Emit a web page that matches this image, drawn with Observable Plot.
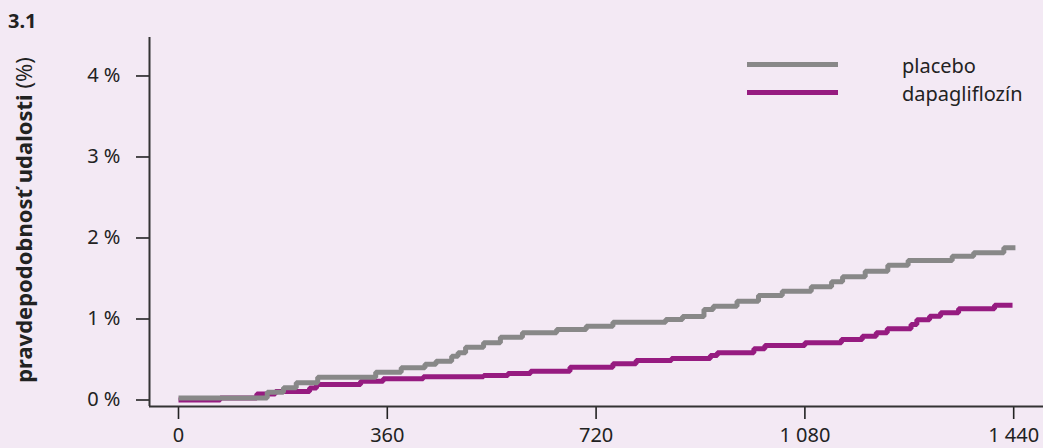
<!DOCTYPE html>
<html>
<head>
<meta charset="utf-8">
<script src="https://cdn.jsdelivr.net/npm/d3@7"></script>
<script src="https://cdn.jsdelivr.net/npm/@observablehq/plot@0.6"></script>
<style>
  html, body { margin: 0; padding: 0; background: #f3e9f4; }
  #wrap { position: relative; width: 1043px; height: 448px; background: #f3e9f4; font-family: "Noto Sans", sans-serif; color: #222; overflow: hidden; }
  #wrap svg { position: absolute; left: 0; top: 0; }
  #title { position: absolute; left: 8px; top: 11px; font-size: 20px; font-weight: bold; line-height: 1; }
  #ylabel { position: absolute; left: 23px; top: 220px; transform: translate(-50%, -50%) rotate(-90deg); white-space: nowrap; font-size: 22px; line-height: 1; }
  #ylabel b { font-weight: bold; }
  .leg { position: absolute; left: 747px; width: 91px; height: 5px; }
  .legt { position: absolute; left: 902px; font-size: 20px; line-height: 1; transform: translateY(-50%); }
</style>
</head>
<body>
<div id="wrap">
  <div id="title">3.1</div>
  <div id="ylabel"><b>pravdepodobnosť udalosti</b> (%)</div>
  <div class="leg" style="top:62px;background:#888888"></div>
  <div class="legt" style="top:66px">placebo</div>
  <div class="leg" style="top:90px;background:#961b80"></div>
  <div class="legt" style="top:94px">dapagliflozín</div>
</div>
<script>
// Series: step points (day, cumulative event probability in %)
const placeboDays = [0, 153, 181, 203, 240, 340, 384, 425, 444, 471, 482, 495, 526, 555, 593, 652, 703, 749, 840, 869, 906, 922, 963, 1000, 1041, 1091, 1126, 1145, 1184, 1223, 1258, 1334, 1371, 1423, 1443];
const placeboPct  = [0.025, 0.096, 0.151, 0.212, 0.281, 0.343, 0.398, 0.442, 0.479, 0.541, 0.583, 0.652, 0.706, 0.775, 0.830, 0.870, 0.911, 0.960, 0.994, 1.031, 1.117, 1.158, 1.220, 1.290, 1.343, 1.398, 1.459, 1.521, 1.590, 1.664, 1.722, 1.775, 1.817, 1.879, 1.879];
const dapaDays = [0, 72, 135, 167, 226, 238, 314, 353, 422, 526, 568, 607, 675, 749, 789, 850, 917, 929, 992, 1011, 1080, 1143, 1179, 1203, 1222, 1263, 1273, 1295, 1314, 1345, 1407, 1438];
const dapaPct  = [0, 0.025, 0.074, 0.105, 0.148, 0.191, 0.232, 0.262, 0.286, 0.302, 0.327, 0.356, 0.405, 0.447, 0.488, 0.512, 0.549, 0.583, 0.632, 0.673, 0.706, 0.747, 0.788, 0.830, 0.879, 0.932, 0.990, 1.035, 1.077, 1.126, 1.170, 1.170];

const xTicks = [0, 360, 720, 1080, 1440];
const yTicks = [0, 1, 2, 3, 4];
const seriesNames = ["placebo", "dapagliflozín"];
const seriesColors = ["#888888", "#961b80"];

const placebo = placeboDays.map((d, i) => ({day: d, pct: placeboPct[i]}));
const dapa = dapaDays.map((d, i) => ({day: d, pct: dapaPct[i]}));

const xDomain = [-50, 1491.4];
const yDomain = [-0.0802, 4.475];

const fmt = d3.formatLocale({thousands: "\u00a0", grouping: [3], decimal: ",", currency: ["", ""]}).format(",");

const chart = Plot.plot({
  width: 1043,
  height: 448,
  marginLeft: 149,
  marginRight: 0,
  marginTop: 37,
  marginBottom: 42,
  style: {background: "transparent", fontFamily: "Noto Sans", fontSize: "20px", color: "#222"},
  x: {domain: xDomain},
  y: {domain: yDomain},
  marks: [
    Plot.axisX({ticks: xTicks, tickFormat: fmt, tickSize: 13, tickPadding: 8, strokeWidth: 1.6, label: null}),
    Plot.axisY({ticks: yTicks, tickFormat: d => d + " %", tickSize: 13, tickPadding: 16, strokeWidth: 1.6, label: null}),
    Plot.ruleX([xDomain[0]], {stroke: "#333", strokeWidth: 2}),
    Plot.ruleY([yDomain[0]], {stroke: "#333", strokeWidth: 2}),
    Plot.line(dapa, {x: "day", y: "pct", curve: "step-after", stroke: seriesColors[1], strokeWidth: 5, strokeLinejoin: "miter", strokeLinecap: "butt"}),
    Plot.line(placebo, {x: "day", y: "pct", curve: "step-after", stroke: seriesColors[0], strokeWidth: 5, strokeLinejoin: "miter", strokeLinecap: "butt"})
  ]
});
document.getElementById("wrap").prepend(chart);
</script>
</body>
</html>
